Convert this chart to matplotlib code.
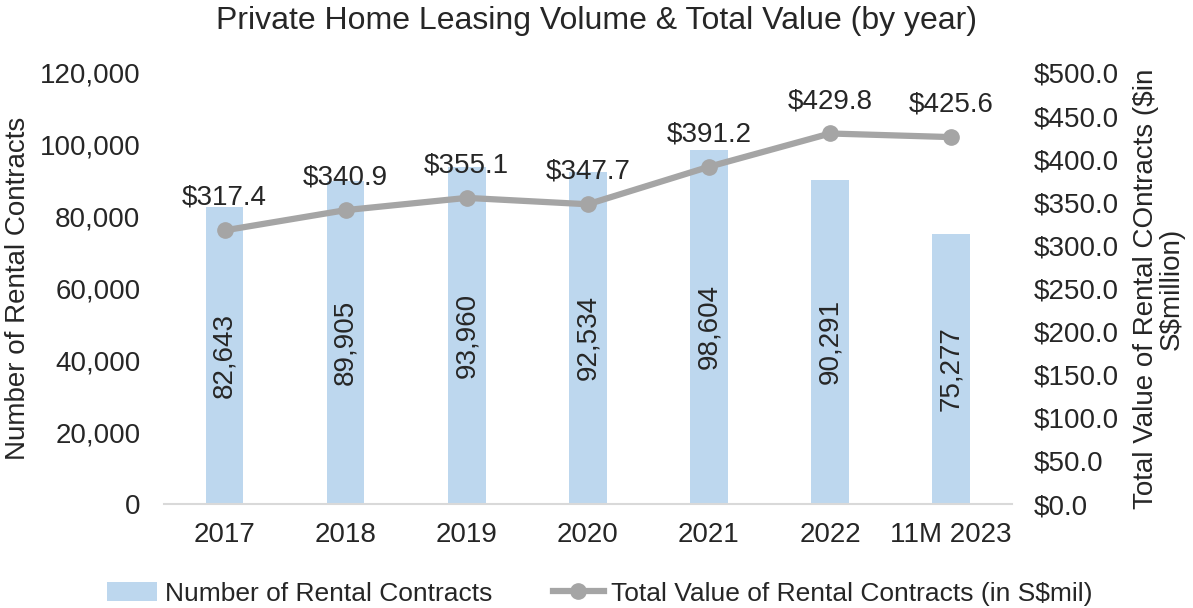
import matplotlib
matplotlib.use("Agg")
import matplotlib.pyplot as plt
from matplotlib.ticker import FuncFormatter

categories = ["2017", "2018", "2019", "2020", "2021", "2022", "11M 2023"]
contracts = [82643, 89905, 93960, 92534, 98604, 90291, 75277]
total_value = [317.4, 340.9, 355.1, 347.7, 391.2, 429.8, 425.6]

plt.rcParams['font.family'] = ['Liberation Sans', 'DejaVu Sans']
txt = '#262626'
fs = 20

fig = plt.figure(figsize=(11.93, 6.08), dpi=100)
ax = fig.add_axes([0.1375, 0.171, 0.7105, 0.709])
ax2 = ax.twinx()

x = list(range(len(categories)))
bars = ax.bar(x, contracts, width=0.31, color='#BDD7EE', label='Number of Rental Contracts', zorder=2)
ax.set_ylim(0, 120000)
ax.set_xlim(-0.5, len(categories) - 0.5)
ax.set_yticks(range(0, 120001, 20000))
ax.yaxis.set_major_formatter(FuncFormatter(lambda v, p: f"{int(v):,}"))
ax.set_xticks(x)
ax.set_xticklabels(categories)
for b, v in zip(bars, contracts):
    ax.text(b.get_x() + b.get_width() / 2, v / 2, f"{v:,}", rotation=90,
            ha='center', va='center', fontsize=fs, color=txt, zorder=3)

line, = ax2.plot(x, total_value, color='#A5A5A5', lw=4.5, marker='o', ms=11,
                 label='Total Value of Rental Contracts (in S$mil)', zorder=4)
ax2.set_ylim(0, 500)
ax2.set_yticks(range(0, 501, 50))
ax2.yaxis.set_major_formatter(FuncFormatter(lambda v, p: f"${v:.1f}"))
for xi, v in zip(x, total_value):
    ax2.annotate(f"${v:.1f}", (xi, v), xytext=(0, 14), textcoords='offset points',
                 ha='center', va='bottom', fontsize=fs, color=txt)

for a in (ax, ax2):
    for s in a.spines.values():
        s.set_visible(False)
    a.tick_params(length=0, labelsize=fs, colors=txt)
ax.spines['bottom'].set_visible(True)
ax.spines['bottom'].set_color('#D9D9D9')
ax.spines['bottom'].set_linewidth(1.5)
ax.tick_params(axis='y', pad=17)
ax.tick_params(axis='x', pad=13)
ax2.tick_params(axis='y', pad=16)

ax.set_ylabel('Number of Rental Contracts', fontsize=fs, color=txt, labelpad=6)
ax2.set_ylabel('Total Value of Rental COntracts ($in\nS$million)', fontsize=fs,
               color=txt, labelpad=10, linespacing=1.0)
fig.suptitle('Private Home Leasing Volume & Total Value (by year)', fontsize=23,
             color=txt, y=0.99)

fig.legend([bars, line], [bars.get_label(), line.get_label()], loc='lower center',
           bbox_to_anchor=(0.503, -0.035), ncol=2, frameon=False, fontsize=19,
           handlelength=1.9, columnspacing=2.3, handletextpad=0.3, labelcolor=txt)

fig.savefig('out.png', dpi=100)
